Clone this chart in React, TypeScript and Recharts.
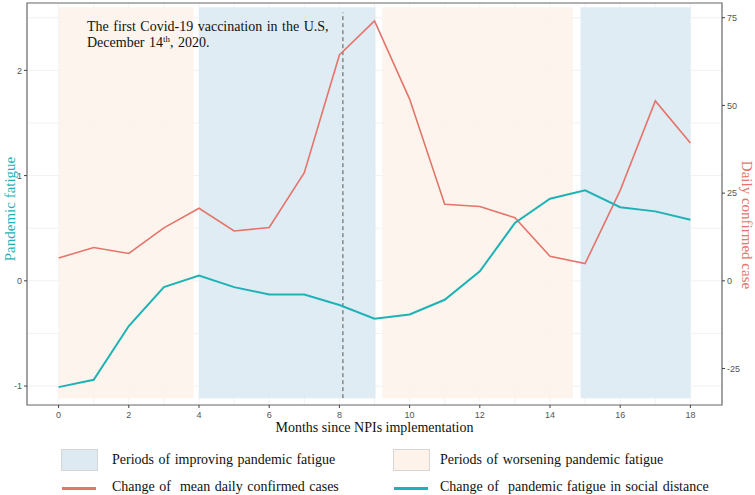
import { ComposedChart, Line, XAxis, YAxis, CartesianGrid, ReferenceArea, ReferenceLine } from 'recharts';

const months = [0, 1, 2, 3, 4, 5, 6, 7, 8, 9, 10, 11, 12, 13, 14, 15, 16, 17, 18];
const dailyCases = [6.5, 9.5, 7.8, 15.1, 20.7, 14.2, 15.2, 30.8, 64.4, 74.1, 51.8, 21.8, 21.2, 18.0, 7.0, 4.9, 25.8, 51.3, 39.3];
const fatigue = [-1.01, -0.94, -0.43, -0.06, 0.05, -0.06, -0.13, -0.13, -0.23, -0.36, -0.32, -0.18, 0.09, 0.55, 0.78, 0.86, 0.7, 0.66, 0.58];

const improvingPeriods = [
  [4, 9.03],
  [14.87, 18],
];
const worseningPeriods = [
  [0, 3.85],
  [9.22, 14.65],
];
const vaccinationMonth = 8.1;

const xTicks = [0, 2, 4, 6, 8, 10, 12, 14, 16, 18];
const leftTicks = [-1, 0, 1, 2];
const rightTicks = [-25, 0, 25, 50, 75];
const gridX = months;
const gridY = [-1, -0.5, 0, 0.5, 1, 1.5, 2, 2.5];

const data = months.map((m, i) => ({ m, cases: dailyCases[i], fatigue: fatigue[i] }));

const SERIF = "'Times New Roman', 'Liberation Serif', serif";
const RED = '#E5746B';
const TEAL = '#1DB3B6';
const BLUE_BG = '#DDEAF2';
const ORANGE_BG = '#FDF3EA';

const tickStyle = { fontSize: 9, fill: '#555', fontFamily: "'Liberation Sans', Arial, sans-serif" };

export default function App() {
  return (
    <div style={{ position: 'relative', width: 755, height: 495, background: '#fff' }}>
      <style>{`body{margin:0}`}</style>
      <ComposedChart width={755} height={495} data={data} margin={{ top: 3, right: 8, bottom: 70, left: 7 }}>
        <CartesianGrid yAxisId="L" verticalValues={gridX} horizontalValues={gridY} stroke="#EDEDED" strokeWidth={0.7} />
        <XAxis
          dataKey="m"
          type="number"
          domain={[-0.9, 18.9]}
          ticks={xTicks}
          allowDataOverflow
          height={20}
          axisLine={false}
          tickLine={{ stroke: '#444' }}
          tickSize={3}
          tickMargin={4}
          tick={tickStyle}
          label={{
            value: 'Months since NPIs implementation',
            position: 'bottom',
            offset: -3,
            style: { fontFamily: SERIF, fontSize: 14, fill: '#111' },
          }}
        />
        <YAxis
          yAxisId="L"
          domain={[-1.18, 2.64]}
          ticks={leftTicks}
          allowDataOverflow
          width={20}
          axisLine={false}
          tickLine={{ stroke: '#444' }}
          tickSize={3}
          tick={tickStyle}
          label={{
            content: () => (
              <text x={15} y={209} transform="rotate(-90 15 209)" textAnchor="middle" fontFamily={SERIF} fontSize={15} fill={TEAL}>
                Pandemic fatigue
              </text>
            ),
          }}
        />
        <YAxis
          yAxisId="R"
          orientation="right"
          domain={[-35.4, 79.2]}
          ticks={rightTicks}
          allowDataOverflow
          width={25}
          axisLine={false}
          tickLine={{ stroke: '#444' }}
          tickSize={3}
          tick={tickStyle}
          label={{
            content: () => (
              <text x={742} y={225} transform="rotate(90 742 225)" textAnchor="middle" fontFamily={SERIF} fontSize={15} fill={RED}>
                Daily confirmed case
              </text>
            ),
          }}
        />
        {worseningPeriods.map(([a, b]) => (
          <ReferenceArea key={'w' + a} yAxisId="L" x1={a} x2={b} y1={-1.115} y2={2.6} fill={ORANGE_BG} fillOpacity={0.85} stroke="none" />
        ))}
        {improvingPeriods.map(([a, b]) => (
          <ReferenceArea key={'i' + a} yAxisId="L" x1={a} x2={b} y1={-1.115} y2={2.6} fill={BLUE_BG} fillOpacity={0.9} stroke="none" />
        ))}
        <ReferenceLine
          yAxisId="L"
          segment={[
            { x: vaccinationMonth, y: -1.115 },
            { x: vaccinationMonth, y: 2.55 },
          ]}
          stroke="#555"
          strokeDasharray="4 3"
          strokeWidth={1}
          label={{
            content: () => (
              <text x={87} y={31} fontFamily={SERIF} fontSize={14} fill="#111" style={{ wordSpacing: 1 }}>
                <tspan x={87}>The first Covid-19 vaccination in the U.S,</tspan>
                <tspan x={87} dy={16}>December 14</tspan>
                <tspan dy={-5} fontSize={9}>th</tspan>
                <tspan dy={5}>, 2020.</tspan>
              </text>
            ),
          }}
        />
        <Line yAxisId="R" dataKey="cases" stroke={RED} strokeWidth={1.6} dot={false} isAnimationActive={false} />
        <Line yAxisId="L" dataKey="fatigue" stroke={TEAL} strokeWidth={2} dot={false} isAnimationActive={false} />
        <ReferenceArea yAxisId="L" x1={-0.9} x2={18.9} y1={-1.18} y2={2.64} fill="none" stroke="#666" strokeWidth={1.2} />
      </ComposedChart>
      <div style={{ position: 'absolute', left: 0, top: 0, width: 755, height: 495, pointerEvents: 'none', fontFamily: SERIF, fontSize: 14, color: '#111', wordSpacing: 1 }}>
        <div style={{ position: 'absolute', left: 61, top: 449, width: 35, height: 20, background: BLUE_BG, border: '1px solid #D6D6D6' }} />
        <div style={{ position: 'absolute', left: 112, top: 450, lineHeight: '20px' }}>Periods of improving pandemic fatigue</div>
        <div style={{ position: 'absolute', left: 62, top: 487, width: 34, height: 3, background: RED }} />
        <div style={{ position: 'absolute', left: 112, top: 477, lineHeight: '20px' }}>Change of&nbsp; mean daily confirmed cases</div>
        <div style={{ position: 'absolute', left: 393, top: 449, width: 35, height: 20, background: ORANGE_BG, border: '1px solid #D6D6D6' }} />
        <div style={{ position: 'absolute', left: 440, top: 450, lineHeight: '20px' }}>Periods of worsening pandemic fatigue</div>
        <div style={{ position: 'absolute', left: 394, top: 487, width: 34, height: 3, background: TEAL }} />
        <div style={{ position: 'absolute', left: 440, top: 477, lineHeight: '20px' }}>Change of&nbsp; pandemic fatigue in social distance</div>
      </div>
    </div>
  );
}
